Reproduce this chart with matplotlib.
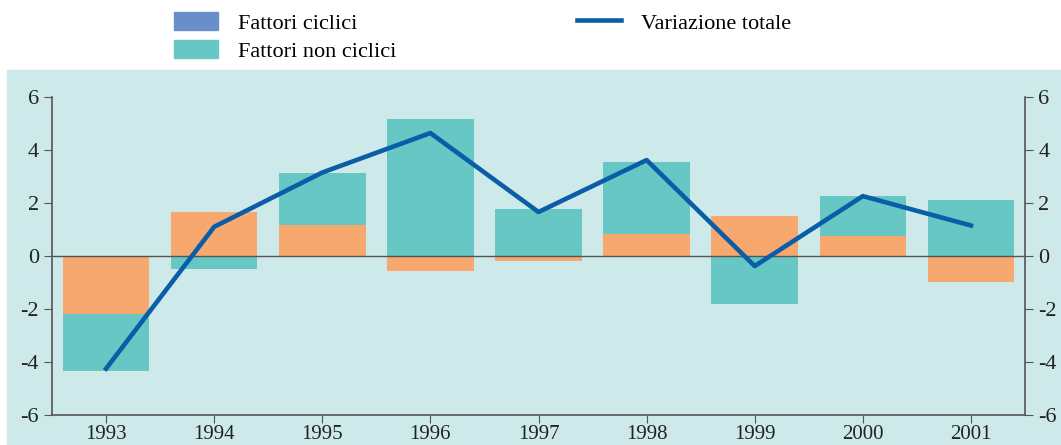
import numpy as np
import matplotlib.pyplot as plt
from matplotlib.patches import Rectangle, Patch
from matplotlib.lines import Line2D

anni = ['1993', '1994', '1995', '1996', '1997', '1998', '1999', '2000', '2001']
ciclici = [-2.2, 1.66, 1.17, -0.57, -0.19, 0.83, 1.5, 0.75, -0.98]
non_ciclici = [-2.15, -0.49, 1.96, 5.17, 1.77, 2.72, -1.81, 1.51, 2.11]
totale = [-4.25, 1.1, 3.15, 4.64, 1.66, 3.62, -0.38, 2.26, 1.15]

c_cicl = '#f7a86f'
c_noncicl = '#66c7c4'
c_leg_cicl = '#6a8fc8'
c_linea = '#0a5ea8'
c_sfondo = '#cde9e9'
c_assi = '#555555'

plt.rcParams['font.family'] = ['Liberation Serif', 'DejaVu Serif']
plt.rcParams['axes.unicode_minus'] = False

def main():
    fig = plt.figure(figsize=(10.61, 4.45), dpi=100)
    fig.patches.append(Rectangle((7/1061, 0), 1 - 7/1061, 375/445,
                                 transform=fig.transFigure, color=c_sfondo, zorder=-1))

    ax = fig.add_axes([52/1061, 30/445, 973/1061, 318/445])
    ax.set_zorder(1)
    ax.set_facecolor('none')
    x = np.arange(len(anni))
    cic = np.array(ciclici)
    nc = np.array(non_ciclici)

    ax.bar(x, cic, 0.8, color=c_cicl, zorder=2)
    base = np.where(np.sign(nc) == np.sign(cic), cic, 0)
    ax.bar(x, nc, 0.8, bottom=base, color=c_noncicl, zorder=2)
    ax.axhline(0, color=c_assi, lw=1, zorder=3)
    ax.plot(x, totale, color=c_linea, lw=3.3, zorder=4)

    ax.set_xlim(-0.5, 8.5)
    ax.set_ylim(-6, 6)
    ax.set_xticks(x)
    ax.set_xticklabels(anni)
    ax.set_yticks(range(-6, 7, 2))
    ax.tick_params(axis='y', left=True, right=True, labelleft=True, labelright=True,
                   direction='out', length=6, color=c_assi, labelsize=16, labelcolor='#222222')
    ax.tick_params(axis='x', direction='out', length=6, pad=1.5, color=c_assi, labelsize=15,
                   labelcolor='#222222')
    for s in ['left', 'right', 'bottom']:
        ax.spines[s].set_color(c_assi)
        ax.spines[s].set_linewidth(1.2)
    ax.spines['top'].set_visible(False)

    handles = [Patch(color=c_leg_cicl), Patch(color=c_noncicl),
               Line2D([], [], color=c_linea, lw=3.3)]
    labels = ['Fattori ciclici', 'Fattori non ciclici', 'Variazione totale']
    fig.legend(handles, labels, ncol=2, loc='upper left',
               bbox_to_anchor=(174/1061, 1 - 12/445),
               frameon=False, fontsize=16, handlelength=2.0, handleheight=0.85,
               handletextpad=0.9, columnspacing=8.1, labelspacing=0.3,
               borderaxespad=0, borderpad=0)

    fig.savefig('out.png', dpi=100)

if __name__ == "__main__":
    main()
